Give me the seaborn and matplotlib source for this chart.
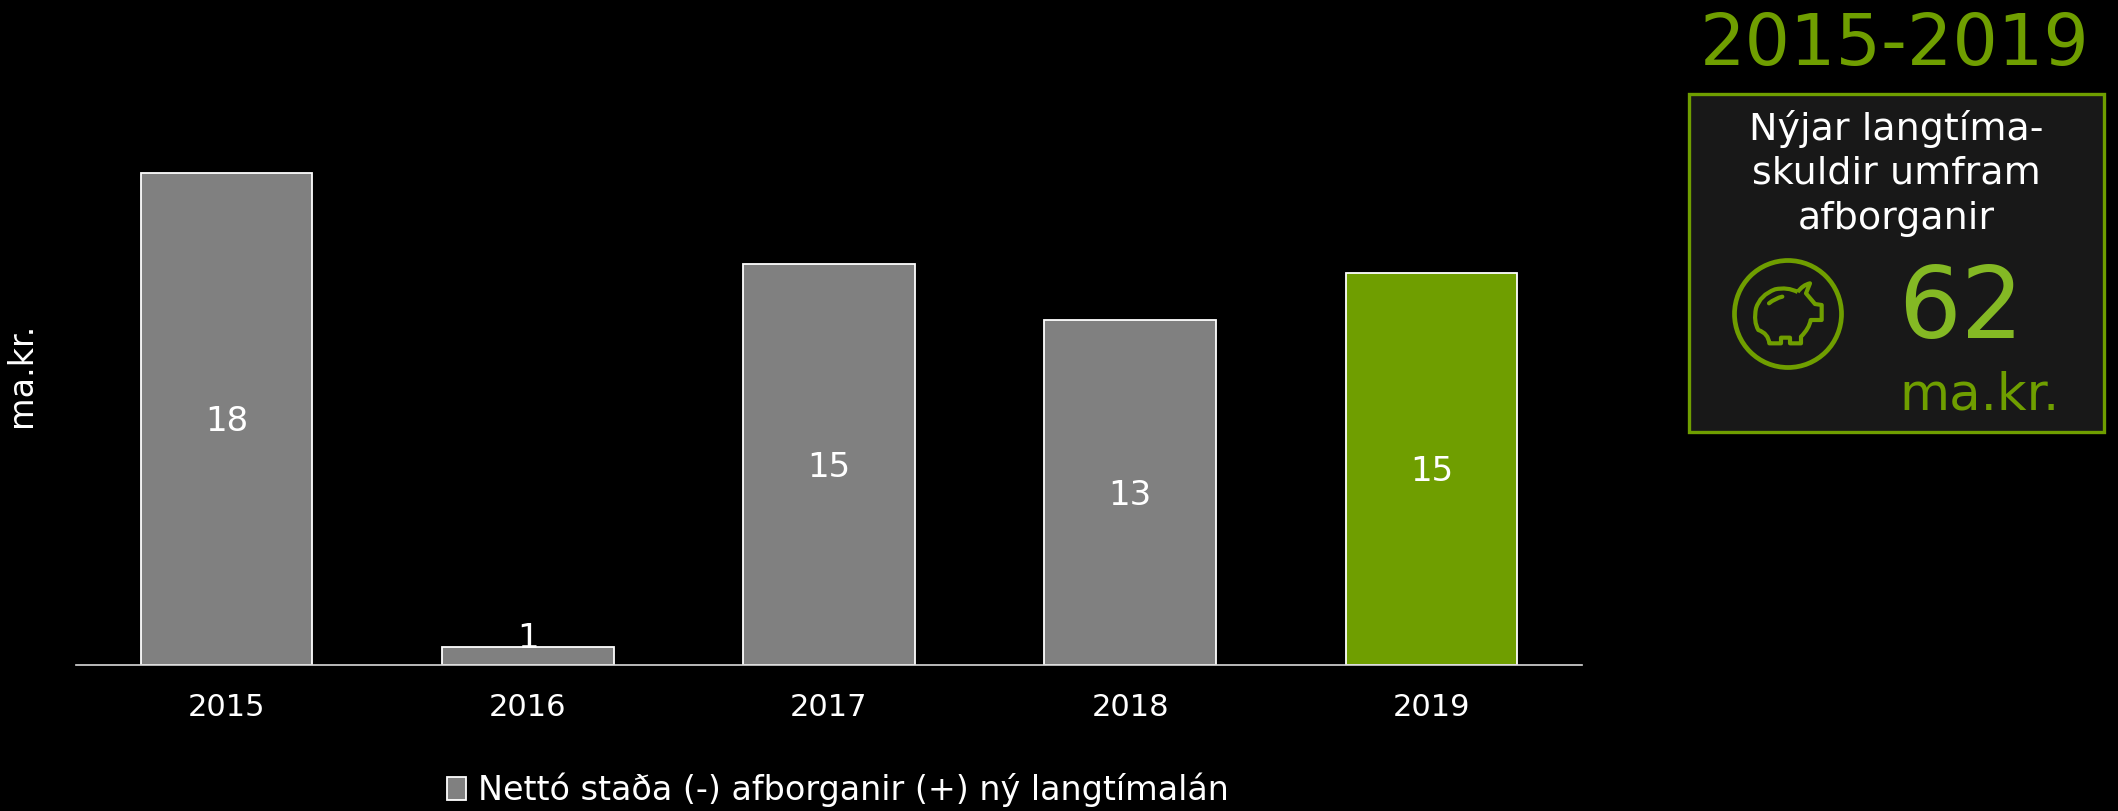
import matplotlib
matplotlib.use("Agg")
import matplotlib.pyplot as plt
import seaborn as sns
import pandas as pd
from matplotlib.patches import Rectangle, Circle, PathPatch, Patch
from matplotlib.path import Path

years = ["2015", "2016", "2017", "2018", "2019"]
values = [18.4, 0.66, 15.0, 12.9, 14.66]
value_labels = ["18", "1", "15", "13", "15"]
groups = ["past", "past", "past", "past", "latest"]
legend_label = "Nettó staða (-) afborganir (+) ný langtímalán"
y_label = "ma.kr."
period = "2015-2019"
panel_lines = "Nýjar langtíma-\nskuldir umfram\nafborganir"
panel_value = "62"
panel_unit = "ma.kr."

GREY = "#808080"
GREEN = "#6f9e00"
BRIGHT = "#84b924"
W, H = 2118, 811

sns.set_theme(style="white")
plt.rcParams["font.family"] = ["DejaVu Sans"]

fig = plt.figure(figsize=(W / 100, H / 100), dpi=100, facecolor="black")
left, right, base, top = 76, 1582, 665, 77
ax = fig.add_axes([left / W, 1 - base / H, (right - left) / W, (base - top) / H])
ax.set_facecolor("black")

df = pd.DataFrame({"year": years, "value": values, "group": groups})
sns.barplot(data=df, x="year", y="value", hue="group",
            palette={"past": GREY, "latest": GREEN}, dodge=False, legend=False,
            width=0.57, edgecolor="white", linewidth=1.3, saturation=1, ax=ax)
ax.set_ylim(0, 22)
ax.set_xlim(-0.5, 4.5)
ax.set_xlabel("")
ax.set_ylabel("")
ax.set_yticks([])
ax.tick_params(axis="x", length=0, pad=20, labelsize=22, labelcolor="white")
for s in ["top", "left", "right"]:
    ax.spines[s].set_visible(False)
ax.spines["bottom"].set_color("#d9d9d9")
ax.spines["bottom"].set_linewidth(1.2)

for i, (v, lab) in enumerate(zip(values, value_labels)):
    ax.text(i, v / 2 - 0.1 if v > 2 else v + 0.35, lab, ha="center",
            va="center", color="white", fontsize=24.5, clip_on=False)

fig.text(22 / W, 1 - 375 / H, y_label, rotation=90, ha="center", va="center",
         color="white", fontsize=24)

fig.legend(handles=[Patch(facecolor=GREY, edgecolor="white", linewidth=1.3, label=legend_label)],
           loc="center left", bbox_to_anchor=(447 / W, 1 - 790 / H), frameon=False,
           fontsize=24, labelcolor="white", handlelength=0.57, handleheight=0.72,
           handletextpad=0.36, borderpad=0, borderaxespad=0)

# Side panel, in pixel coordinates of the figure
ov = fig.add_axes([0, 0, 1, 1], facecolor="none")
ov.set_xlim(0, W)
ov.set_ylim(H, 0)
ov.axis("off")
ov.text(1895, 45, period, ha="center", va="center", color=GREEN, fontsize=51.5)
ov.add_patch(Rectangle((1689, 94), 415, 338, facecolor="#181818", edgecolor=GREEN, linewidth=2.4))
for line, yb in zip(panel_lines.split("\n"), [140, 183, 229]):
    ov.text(1896, yb, line, ha="center", va="baseline", color="white", fontsize=27.4)
ov.text(1961, 338, panel_value, ha="center", va="baseline", color=BRIGHT, fontsize=71)
ov.text(1979, 409, panel_unit, ha="center", va="baseline", color=GREEN, fontsize=37)

# Piggy-bank icon
ov.add_patch(Circle((1788, 314), 53.5, fill=False, edgecolor=GREEN, linewidth=3.4))
z = lambda x, y: (1700 + x / 3, 240 + y / 3)
M, L, C = Path.MOVETO, Path.LINETO, Path.CURVE3
pig = [
    (M, 293, 156), (C, 308, 135), (C, 330, 130), (L, 318, 160), (L, 345, 192), (L, 365, 195),
    (L, 365, 240), (L, 332, 240), (C, 328, 265), (C, 303, 290), (L, 303, 310), (L, 270, 310),
    (L, 270, 293), (L, 243, 293), (L, 243, 310), (L, 208, 310), (C, 205, 280), (C, 175, 270),
    (C, 160, 245), (C, 168, 205), (C, 180, 165), (C, 225, 148), (C, 262, 140), (C, 293, 156),
]
ov.add_patch(PathPatch(Path([z(x, y) for _, x, y in pig], [c for c, _, _ in pig]),
                       fill=False, edgecolor=GREEN, linewidth=3, joinstyle="round"))
ov.add_patch(PathPatch(Path([z(207, 190), z(225, 175), z(247, 170)], [M, C, C]),
                       fill=False, edgecolor=GREEN, linewidth=3, capstyle="round"))

fig.savefig("out.png", dpi=100, facecolor="black")
